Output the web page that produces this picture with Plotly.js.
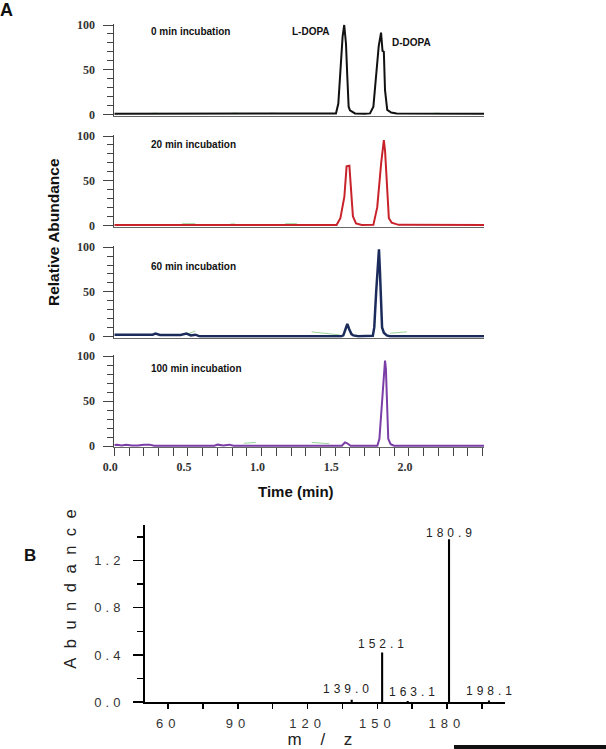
<!DOCTYPE html>
<html>
<head>
<meta charset="utf-8">
<script src="https://cdn.plot.ly/plotly-3.0.1.min.js"></script>
<style>
  html, body { margin: 0; padding: 0; background: #fff; }
  #chart { width: 606px; height: 749px; }
</style>
</head>
<body>
<div id="chart"></div>
<script>
// ---------------- DATA (panel A: chromatograms) ----------------
const time_0min  = [0, 0.5, 1.0, 1.45, 1.505, 1.521, 1.537, 1.550, 1.561, 1.573, 1.582, 1.591, 1.600, 1.634, 1.70, 1.736, 1.759, 1.777, 1.795, 1.811, 1.817, 1.821, 1.830, 1.838, 1.853, 1.880, 1.917, 2.2, 2.51];
const abund_0min = [0.5, 0.5, 0.5, 0.5, 1, 12, 53, 87, 100, 79, 42, 8.5, 4.5, 1, 0.5, 1, 8.5, 42, 76, 91.5, 81, 71, 70, 27, 5, 2, 1, 0.5, 0.5];

const time_20min  = [0, 1.0, 1.509, 1.535, 1.562, 1.577, 1.586, 1.596, 1.606, 1.620, 1.641, 1.68, 1.759, 1.785, 1.812, 1.830, 1.838, 1.851, 1.864, 1.883, 1.93, 2.51];
const abund_20min = [0.3, 0.3, 0.3, 8, 32, 66, 66.7, 66.7, 43, 10, 2, 0.3, 0.5, 20, 70, 95.5, 84, 46, 8, 3, 0.5, 0.3];

const time_60min  = [0, 0.26, 0.28, 0.31, 0.45, 0.49, 0.52, 0.55, 0.58, 1.0, 1.54, 1.555, 1.570, 1.582, 1.595, 1.61, 1.623, 1.657, 1.755, 1.765, 1.778, 1.790, 1.797, 1.803, 1.811, 1.818, 1.830, 1.850, 1.87, 2.51];
const abund_60min = [1.8, 1.8, 3, 1.5, 1.5, 3, 1, 1.8, 0, 0, 0, 1, 9, 13.8, 8, 2.5, 1, 0, 0.5, 10, 50, 85, 97.8, 75, 30, 10, 4, 1, 0, 0];

const time_100min  = [0, 0.02, 0.05, 0.08, 0.12, 0.16, 0.2, 0.24, 0.27, 0.5, 0.68, 0.70, 0.74, 0.78, 0.81, 1.2, 1.545, 1.566, 1.581, 1.604, 1.786, 1.80, 1.822, 1.838, 1.844, 1.860, 1.876, 1.899, 2.51];
const abund_100min = [1, 1.5, 0.5, 1.5, 0.5, 0.5, 1.5, 1.5, 0.3, 0.3, 0.3, 1.5, 0.5, 1.5, 0.3, 0.3, 0.3, 4, 3, 0.3, 0.3, 8, 60, 95, 86, 8, 2, 0.3, 0.3];

// light-green integration baseline marks (null = gap)
const green_t_0min  = [0.26, 0.29, null, 0.80, 0.84, null, 1.05, 1.10, null, 2.17, 2.21];
const green_a_0min  = [1.2, 1.2, null, 1.2, 1.2, null, 1.2, 1.2, null, 1.2, 1.2];
const green_t_20min = [0.46, 0.55, null, 0.79, 0.82, null, 1.16, 1.24];
const green_a_20min = [1.8, 1.8, null, 1.5, 1.5, null, 1.8, 1.8];
const green_t_60min = [0.49, 0.55, null, 1.34, 1.53, null, 1.872, 1.985];
const green_a_60min = [2, 6, null, 5, 1.5, null, 3.4, 5];
const green_t_100min = [0.88, 0.96, null, 1.34, 1.46];
const green_a_100min = [3, 4, null, 4, 2.5];

const panel_labels = ["0 min incubation", "20 min incubation", "60 min incubation", "100 min incubation"];
const time_tick_vals = [0, 0.5, 1.0, 1.5, 2.0];
const time_tick_text = ["0.0", "0.5", "1.0", "1.5", "2.0"];
const rel_tick_vals = [0, 50, 100];
const rel_tick_text = ["0", "50", "100"];

// ---------------- DATA (panel B: mass spectrum) ----------------
const ms_mz        = [139.0, 152.1, 163.1, 180.9, 198.1];
const ms_abundance = [0.02, 0.42, 0.01, 1.38, 0.015];
const mz_tick_vals = [60, 90, 120, 150, 180];
const mz_tick_text = ["60", "90", "120", "150", "180"];
const ab_tick_vals = [0, 0.4, 0.8, 1.2];
const ab_tick_text = ["0.0", "0.4", "0.8", "1.2"];

// ---------------- LAYOUT helpers ----------------
const W = 606, H = 749;
const fx = p => p / W;
const fy = p => 1 - p / H;

const colors = ["#111111", "#c8232b", "#1b2c5c", "#7a3ea6"];
const widths = [2, 2, 2.5, 2];
const times = [time_0min, time_20min, time_60min, time_100min];
const abunds = [abund_0min, abund_20min, abund_60min, abund_100min];
const greenT = [green_t_0min, green_t_20min, green_t_60min, green_t_100min];
const greenA = [green_a_0min, green_a_20min, green_a_60min, green_a_100min];

// pixel positions of 100 and 0 for each panel
const panelPx = [[25, 114.3], [136, 225.3], [247.3, 336.3], [356, 446]];

const traces = [];
const layout = {
  width: W, height: H,
  margin: {l: 0, r: 0, t: 0, b: 0},
  paper_bgcolor: "#fff", plot_bgcolor: "rgba(0,0,0,0)",
  showlegend: false,
  font: {family: "Liberation Sans, Arial, sans-serif", color: "#222"},
  annotations: [], shapes: []
};

const xDom = [fx(114.3), fx(484)];
for (let k = 0; k < 4; k++) {
  const xs = k === 0 ? "x" : "x" + (k + 1);
  const ys = k === 0 ? "y" : "y" + (k + 1);
  traces.push({x: greenT[k], y: greenA[k], xaxis: xs, yaxis: ys, type: "scatter", mode: "lines",
    line: {color: "#9ad59a", width: 1}, connectgaps: false, hoverinfo: "skip"});
  traces.push({x: times[k], y: abunds[k], xaxis: xs, yaxis: ys, type: "scatter", mode: "lines",
    line: {color: colors[k], width: widths[k]}});

  const [p100, p0] = panelPx[k];
  const pxPerUnit = (p0 - p100) / 100;
  const pad = 1.5 * pxPerUnit;
  const xa = {
    domain: xDom, range: [0, 2.51], anchor: ys,
    showgrid: false, zeroline: false, showline: true, linecolor: "#666", linewidth: 1,
    fixedrange: true
  };
  if (k === 3) {
    Object.assign(xa, {
      tickmode: "array", tickvals: time_tick_vals, ticktext: time_tick_text,
      ticks: "outside", ticklen: 8, tickcolor: "#444", tickwidth: 1,
      minor: {tickmode: "linear", tick0: 0, dtick: 0.1, ticks: "outside", ticklen: 8, tickcolor: "#444", tickwidth: 1},
      tickfont: {family: "Liberation Serif, Times New Roman, serif", size: 12, color: "#333", weight: "bold"},
      ticklabelshift: -4
    });
  } else {
    Object.assign(xa, {showticklabels: false, ticks: ""});
  }
  const ya = {
    domain: [fy(p0 + pad), fy(p100 - pad)], range: [-1.5, 101.5], anchor: xs,
    showgrid: false, zeroline: false, showline: true, linecolor: "#444", linewidth: 1,
    tickmode: "array", tickvals: rel_tick_vals, ticktext: rel_tick_text,
    ticks: "outside", ticklen: 10, tickcolor: "#444", tickwidth: 1,
    minor: {tickmode: "linear", tick0: 0, dtick: 10, ticks: "outside", ticklen: 6, tickcolor: "#444", tickwidth: 1},
    tickfont: {family: "Liberation Serif, Times New Roman, serif", size: 12, color: "#333", weight: "bold"},
    ticklabelstandoff: 6, fixedrange: true
  };
  layout[k === 0 ? "xaxis" : "xaxis" + (k + 1)] = xa;
  layout[k === 0 ? "yaxis" : "yaxis" + (k + 1)] = ya;
}

// Mass spectrum sticks
traces.push({x: ms_mz, y: ms_abundance, xaxis: "x5", yaxis: "y5", type: "bar",
  width: 0.9, marker: {color: "#000", line: {width: 0}}});

layout.xaxis5 = {
  domain: [fx(145), fx(505)], range: [50, 205], anchor: "y5",
  showgrid: false, zeroline: false, showline: true, linecolor: "#000", linewidth: 2,
  tickmode: "array", tickvals: mz_tick_vals, ticktext: mz_tick_text,
  ticks: "outside", ticklen: 5, tickcolor: "#000", tickwidth: 1.5,
  minor: {tickmode: "linear", tick0: 45, dtick: 15, ticks: "outside", ticklen: 5, tickcolor: "#000", tickwidth: 1.5},
  tickfont: {family: "Liberation Sans, Arial, sans-serif", size: 13, color: "#333"},
  ticklabelstandoff: 3, fixedrange: true
};
layout.yaxis5 = {
  domain: [fy(702.2), fy(525)], range: [0, 1.5], anchor: "x5",
  showgrid: false, zeroline: false, showline: true, linecolor: "#000", linewidth: 2,
  tickmode: "array", tickvals: ab_tick_vals, ticktext: ab_tick_text,
  ticks: "outside", ticklen: 10, tickcolor: "#000", tickwidth: 1.5,
  minor: {tickmode: "linear", tick0: 0, dtick: 0.2, ticks: "outside", ticklen: 6, tickcolor: "#000", tickwidth: 1.5},
  tickfont: {family: "Liberation Sans, Arial, sans-serif", size: 13, color: "#333"},
  ticklabelstandoff: 6, fixedrange: true
};

// ---------------- ANNOTATIONS ----------------
const ann = layout.annotations;
const spaced = {};  // index -> letter-spacing px
function addAnn(a, ls) { ann.push(a); if (ls) spaced[ann.length - 1] = ls; }

addAnn({text: "A", xref: "paper", yref: "paper", x: fx(6.5), y: fy(9.5), xanchor: "center", yanchor: "middle",
  showarrow: false, font: {family: "Liberation Sans, Arial", size: 18, color: "#111", weight: "bold"}});
addAnn({text: "B", xref: "paper", yref: "paper", x: fx(30), y: fy(555), xanchor: "center", yanchor: "middle",
  showarrow: false, font: {family: "Liberation Sans, Arial", size: 17, color: "#111", weight: "bold"}});

const labelY = [32, 144.3, 266, 368];
for (let k = 0; k < 4; k++) {
  addAnn({text: panel_labels[k], xref: "paper", yref: "paper", x: fx(149), y: fy(labelY[k]),
    xanchor: "left", yanchor: "middle", showarrow: false,
    font: {family: "Liberation Sans, Arial", size: 10, color: "#111", weight: "bold"}});
}
addAnn({text: "L-DOPA", xref: "paper", yref: "paper", x: fx(311), y: fy(31), xanchor: "center", yanchor: "middle",
  showarrow: false, font: {family: "Liberation Sans, Arial", size: 10, color: "#111", weight: "bold"}});
addAnn({text: "D-DOPA", xref: "paper", yref: "paper", x: fx(411), y: fy(42), xanchor: "center", yanchor: "middle",
  showarrow: false, font: {family: "Liberation Sans, Arial", size: 10, color: "#111", weight: "bold"}});

addAnn({text: "Relative Abundance", xref: "paper", yref: "paper", x: fx(54), y: fy(232), xanchor: "center", yanchor: "middle",
  textangle: -90, showarrow: false, font: {family: "Liberation Sans, Arial", size: 15.5, color: "#111", weight: "bold"}});
addAnn({text: "Time (min)", xref: "paper", yref: "paper", x: fx(295.5), y: fy(491.7), xanchor: "center", yanchor: "middle",
  showarrow: false, font: {family: "Liberation Sans, Arial", size: 15, color: "#111", weight: "bold"}});

// Panel B titles
addAnn({text: "Abundance", xref: "paper", yref: "paper", x: fx(70), y: fy(584), xanchor: "center", yanchor: "middle",
  textangle: -90, showarrow: false, font: {family: "Liberation Sans, Arial", size: 16.5, color: "#222"}}, 9.5);
addAnn({text: "m / z", xref: "paper", yref: "paper", x: fx(323), y: fy(739.5), xanchor: "center", yanchor: "middle",
  showarrow: false, font: {family: "Liberation Sans, Arial", size: 17, color: "#222"}}, 7);

// peak labels: offsets in pixels relative to each stick top
const peakLabelShift = [[-6, 2], [-1, 0], [4, 0], [0, -3], [0, 0]];
for (let i = 0; i < ms_mz.length; i++) {
  addAnn({text: ms_mz[i].toFixed(1), xref: "x5", yref: "y5", x: ms_mz[i], y: ms_abundance[i],
    xanchor: "center", yanchor: "bottom", showarrow: false,
    xshift: peakLabelShift[i][0] + 2, yshift: peakLabelShift[i][1],
    font: {family: "Liberation Sans, Arial", size: 12, color: "#222"}}, 4);
}

// scan artefact at bottom right
layout.shapes.push({type: "rect", xref: "paper", yref: "paper", x0: fx(454), x1: fx(606), y0: fy(749), y1: fy(745),
  fillcolor: "#111", line: {width: 0}, layer: "above"});

// letter spacing styles (keeps text as real text)
let css = ".x5tick text{letter-spacing:5px;} .y5tick text{letter-spacing:4px;}\n";
for (const idx in spaced) {
  css += `.annotation[data-index="${idx}"] text{letter-spacing:${spaced[idx]}px;}\n`;
}
const st = document.createElement("style");
st.textContent = css;
document.head.appendChild(st);

Plotly.newPlot("chart", traces, layout, {displayModeBar: false, staticPlot: true});
</script>
</body>
</html>
